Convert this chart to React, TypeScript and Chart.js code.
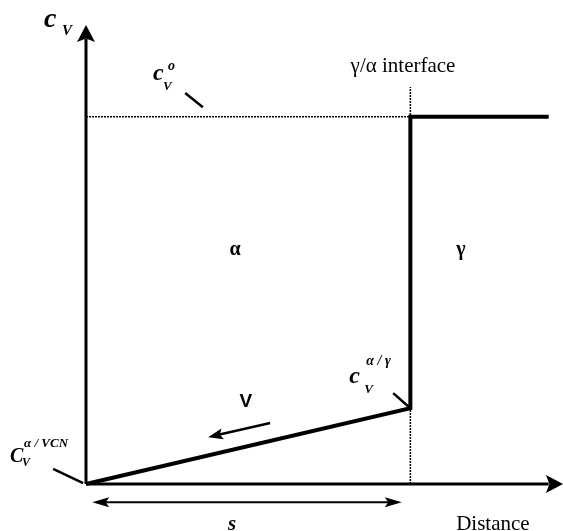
import { useEffect, useRef } from "react";
import { Chart, registerables } from "chart.js";

Chart.register(...registerables);

// Vacancy concentration profile across a moving γ/α interface.
// Distance runs 0–100, concentration 0–1 (schematic units).
const bulkConc = 0.8; // c_V^o
const interfaceX = 68; // γ/α interface position
const interfaceConc = 0.165; // c_V^{α/γ}
const vcnConc = 0; // c_V^{α/VCN}
const profileEndX = 97;
const interfaceMarkTop = 0.865;

const profileX = [0, interfaceX, interfaceX, profileEndX];
const profileY = [vcnConc, interfaceConc, bulkConc, bulkConc];

// Arrow for the interface velocity V and the span s
const velocityFrom = { x: 38.6, y: 0.133 };
const velocityTo = { x: 25.6, y: 0.102 };
const spanY = -0.04;
const spanFrom = 1.3;
const spanTo = 66.2;

// Leader lines from the symbol labels to the points they name
const leaders = [
  [{ x: 20.8, y: 0.852 }, { x: 24.5, y: 0.821 }],
  [{ x: 64.4, y: 0.198 }, { x: interfaceX, y: interfaceConc }],
  [{ x: -6.9, y: 0.033 }, { x: -0.6, y: 0.002 }],
];

type Piece = { text: string; font: string; dx: number; dy: number };
type Label = { x: number; y: number; align: CanvasTextAlign; pieces: Piece[] };

const SERIF = '"Liberation Serif", "Times New Roman", serif';
const SANS = '"Liberation Sans", Arial, sans-serif';

const labels: Label[] = [
  {
    x: -8.8,
    y: 0.996,
    align: "left",
    pieces: [
      { text: "c", font: `bold italic 28px ${SERIF}`, dx: 0, dy: 0 },
      { text: "V", font: `bold italic 15px ${SERIF}`, dx: 18, dy: 8 },
    ],
  },
  {
    x: 14.05,
    y: 0.88,
    align: "left",
    pieces: [
      { text: "c", font: `bold italic 24px ${SERIF}`, dx: 0, dy: 0 },
      { text: "o", font: `bold italic 14px ${SERIF}`, dx: 15, dy: -10 },
      { text: "V", font: `bold italic 13px ${SERIF}`, dx: 10, dy: 10 },
    ],
  },
  {
    x: 55.2,
    y: 0.22,
    align: "left",
    pieces: [
      { text: "c", font: `bold italic 24px ${SERIF}`, dx: 0, dy: 0 },
      { text: "α / γ", font: `bold italic 14px ${SERIF}`, dx: 17, dy: -18 },
      { text: "V", font: `bold italic 13px ${SERIF}`, dx: 15, dy: 10 },
    ],
  },
  {
    x: -15.93,
    y: 0.048,
    align: "left",
    pieces: [
      { text: "C", font: `bold italic 20px ${SERIF}`, dx: 0, dy: 0 },
      { text: "α / VCN", font: `bold italic 13px ${SERIF}`, dx: 14, dy: -15 },
      { text: "V", font: `bold italic 12px ${SERIF}`, dx: 12, dy: 4 },
    ],
  },
  { x: 66.46, y: 0.898, align: "center", pieces: [{ text: "γ/α interface", font: `21px ${SERIF}`, dx: 0, dy: 0 }] },
  { x: 31.24, y: 0.5, align: "center", pieces: [{ text: "α", font: `bold 20px ${SERIF}`, dx: 0, dy: 0 }] },
  { x: 78.6, y: 0.5, align: "center", pieces: [{ text: "γ", font: `bold 20px ${SERIF}`, dx: 0, dy: 0 }] },
  { x: 33.5, y: 0.168, align: "center", pieces: [{ text: "V", font: `bold 19px ${SANS}`, dx: 0, dy: 0 }] },
  { x: 30.6, y: -0.1, align: "center", pieces: [{ text: "s", font: `bold italic 21px ${SERIF}`, dx: 0, dy: 0 }] },
  { x: 85.3, y: -0.1, align: "center", pieces: [{ text: "Distance", font: `21px ${SERIF}`, dx: 0, dy: 0 }] },
];

type Pt = { x: number; y: number };
type Head = { from: Pt; to: Pt; len: number; half: number };

const heads: Head[] = [
  { from: { x: 0, y: 0 }, to: { x: 0, y: 1 }, len: 17, half: 9 },
  { from: { x: 0, y: 0 }, to: { x: 100, y: 0 }, len: 17, half: 9 },
  { from: velocityFrom, to: velocityTo, len: 15, half: 5.5 },
  { from: { x: spanTo, y: spanY }, to: { x: spanFrom, y: spanY }, len: 17, half: 5 },
  { from: { x: spanFrom, y: spanY }, to: { x: spanTo, y: spanY }, len: 17, half: 5 },
];

const overlay = {
  id: "overlay",
  afterDatasetsDraw(chart: any) {
    const { ctx, scales } = chart;
    const px = (p: Pt) => [scales.x.getPixelForValue(p.x), scales.y.getPixelForValue(p.y)];
    ctx.save();
    ctx.fillStyle = "#000";
    for (const h of heads) {
      const [x0, y0] = px(h.from);
      const [x1, y1] = px(h.to);
      const a = Math.atan2(y1 - y0, x1 - x0);
      const c = Math.cos(a);
      const s = Math.sin(a);
      const bx = x1 - c * h.len;
      const by = y1 - s * h.len;
      const mx = x1 - c * h.len * 0.8;
      const my = y1 - s * h.len * 0.8;
      ctx.beginPath();
      ctx.moveTo(x1, y1);
      ctx.lineTo(bx - s * h.half, by + c * h.half);
      ctx.lineTo(mx, my);
      ctx.lineTo(bx + s * h.half, by - c * h.half);
      ctx.closePath();
      ctx.fill();
    }
    ctx.textBaseline = "alphabetic";
    for (const l of labels) {
      const [ax, ay] = px(l);
      ctx.textAlign = l.align;
      for (const p of l.pieces) {
        ctx.font = p.font;
        ctx.fillText(p.text, ax + p.dx, ay + p.dy);
      }
    }
    ctx.restore();
  },
};

const seg = (pts: Pt[], width: number, dash: number[] = []) => ({
  data: pts,
  showLine: true,
  borderColor: "#000",
  borderWidth: width,
  borderDash: dash,
  pointRadius: 0,
  clip: false as const,
  borderCapStyle: "butt" as const,
  borderJoinStyle: "miter" as const,
});

export default function App() {
  const ref = useRef<HTMLCanvasElement>(null);

  useEffect(() => {
    if (!ref.current) return;
    const chart = new Chart(ref.current, {
      type: "scatter",
      data: {
        datasets: [
          seg([{ x: 0, y: bulkConc }, { x: interfaceX, y: bulkConc }], 1.5, [2, 1]),
          seg([{ x: interfaceX, y: 0 }, { x: interfaceX, y: interfaceMarkTop }], 1.5, [2, 1]),
          seg([{ x: 0, y: 0 }, { x: 0, y: 0.97 }], 3),
          seg([{ x: 0, y: 0 }, { x: 97, y: 0 }], 3),
          seg(profileX.map((x, i) => ({ x, y: profileY[i] })), 4),
          seg([velocityFrom, { x: 28, y: 0.108 }], 2.5),
          seg([{ x: spanFrom + 2.5, y: spanY }, { x: spanTo - 2.5, y: spanY }], 2),
          ...leaders.map((l) => seg(l, 2.5)),
        ],
      },
      options: {
        animation: false,
        responsive: false,
        layout: { padding: { left: 86, right: 0, top: 25, bottom: 47 } },
        scales: {
          x: { type: "linear", min: 0, max: 100, display: false },
          y: { type: "linear", min: 0, max: 1, display: false },
        },
        plugins: { legend: { display: false }, tooltip: { enabled: false } },
      },
      plugins: [overlay],
    });
    return () => chart.destroy();
  }, []);

  return (
    <div style={{ position: "absolute", left: 0, top: 0, width: 563, height: 531, background: "#fff" }}>
      <canvas ref={ref} width={563} height={531} />
    </div>
  );
}
